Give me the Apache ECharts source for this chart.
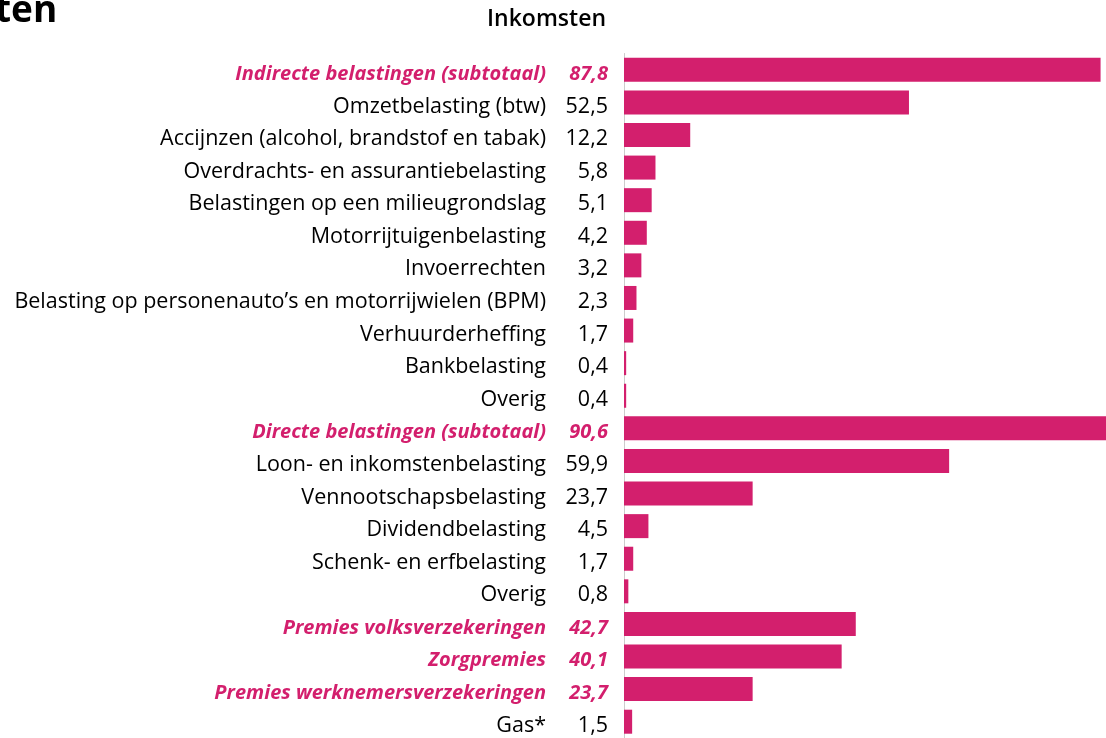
<!DOCTYPE html>
<html>
<head>
<meta charset="utf-8">
<script src="https://cdn.jsdelivr.net/npm/echarts@6/dist/echarts.min.js"></script>
<style>
  html, body { margin: 0; padding: 0; background: #fff; }
  #main { width: 1106px; height: 738px; }
</style>
</head>
<body>
<div id="main"></div>
<script>
const categorieen = [
  'Indirecte belastingen (subtotaal)',
  'Omzetbelasting (btw)',
  'Accijnzen (alcohol, brandstof en tabak)',
  'Overdrachts- en assurantiebelasting',
  'Belastingen op een milieugrondslag',
  'Motorrijtuigenbelasting',
  'Invoerrechten',
  'Belasting op personenauto\u2019s en motorrijwielen (BPM)',
  'Verhuurderheffing',
  'Bankbelasting',
  'Overig',
  'Directe belastingen (subtotaal)',
  'Loon- en inkomstenbelasting',
  'Vennootschapsbelasting',
  'Dividendbelasting',
  'Schenk- en erfbelasting',
  'Overig ',
  'Premies volksverzekeringen',
  'Zorgpremies',
  'Premies werknemersverzekeringen',
  'Gas*'
];
const waarden = [87.8, 52.5, 12.2, 5.8, 5.1, 4.2, 3.2, 2.3, 1.7, 0.4, 0.4,
                 90.6, 59.9, 23.7, 4.5, 1.7, 0.8, 42.7, 40.1, 23.7, 1.5];
const subtotaal = [true, false, false, false, false, false, false, false, false, false, false,
                   true, false, false, false, false, false, true, true, true, false];

const roze = '#d31f6d';
const font = '"Open Sans", sans-serif';
const fs = 21.5;

let chart = echarts.init(document.getElementById('main'));

let option = {
  animation: false,
  textStyle: { fontFamily: font },
  graphic: [
    {
      type: 'text', left: -5, top: -7,
      style: { text: 'ten', font: 'bold 37px ' + font, fill: '#000' }
    },
    {
      type: 'text', right: 500, top: 8,
      style: { text: 'Inkomsten', font: '600 23px ' + font, fill: '#000', textAlign: 'right' }
    }
  ],
  // de schaal loopt door tot voorbij de rand, de grootste balk valt er net af
  grid: { left: 624, top: 53.5, right: 0, height: 685, containLabel: false },
  xAxis: {
    type: 'value', min: 0, max: 88.8,
    show: false
  },
  yAxis: {
    type: 'category',
    inverse: true,
    data: categorieen,
    axisLine: { show: true, lineStyle: { color: '#cccccc', width: 1 } },
    axisTick: { show: false },
    axisLabel: {
      margin: 16,
      padding: [8, 0, 0, 0],
      formatter: function (naam, i) {
        const w = waarden[i].toFixed(1).replace('.', ',');
        const n = naam.trim();
        return subtotaal[i] ? `{nh|${n}}{vh|${w}}` : `{n|${n}}{v|${w}}`;
      },
      rich: {
        n: { fontFamily: font, fontSize: fs, color: '#000' },
        v: { fontFamily: font, fontSize: fs, color: '#000', width: 62, align: 'right' },
        nh: { fontFamily: font, fontSize: 20, color: roze, fontWeight: 'bold', fontStyle: 'italic' },
        vh: { fontFamily: font, fontSize: 20, color: roze, fontWeight: 'bold', fontStyle: 'italic', width: 62, align: 'right' }
      }
    }
  },
  series: [{
    type: 'bar',
    data: waarden,
    barWidth: 24,
    clip: true,
    itemStyle: { color: roze },
    silent: true
  }]
};
chart.setOption(option);
</script>
</body>
</html>
